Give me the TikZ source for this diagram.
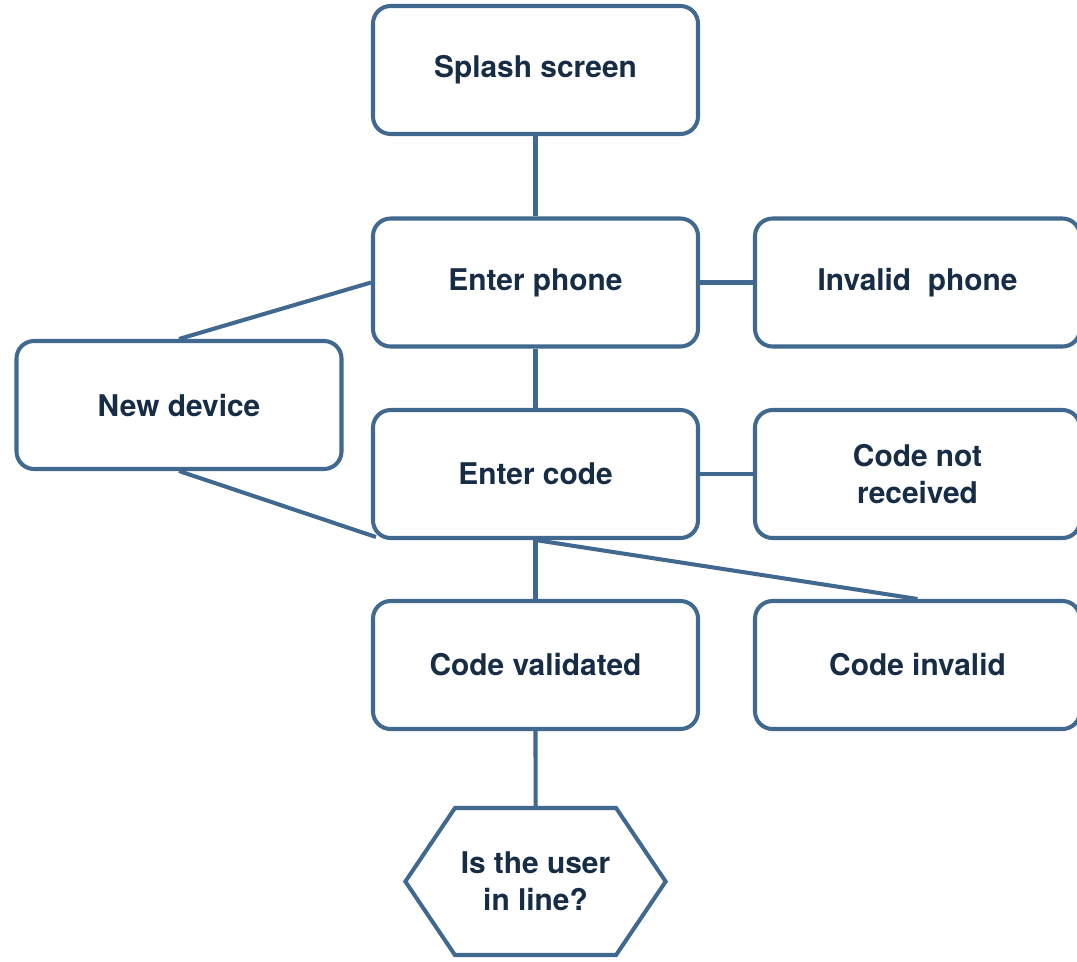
\documentclass[tikz,border=0pt]{standalone}
\usepackage{fontspec}
\setmainfont{TeX Gyre Heros}
\usetikzlibrary{shapes.symbols, positioning, calc}
\definecolor{flowedge}{HTML}{41698F}
\definecolor{flowtext}{HTML}{172D46}

\begin{document}
\begin{tikzpicture}[
    box/.style={rectangle, rounded corners=10pt, draw=flowedge, fill=white, line width=2.3pt,
                minimum width=6.5cm, minimum height=2.56cm, align=center,
                font=\fontsize{17}{21}\selectfont\bfseries, text=flowtext},
    decide/.style={signal, signal to=east and west, signal pointer angle=112, draw=flowedge,
                fill=white, line width=2.3pt, minimum width=5.1cm, minimum height=2.94cm,
                align=center, font=\fontsize{17}{21}\selectfont\bfseries, text=flowtext},
    link/.style={line width=2.3pt, color=flowedge}
]
\useasboundingbox (0,0) rectangle (21.54,-19.22);

\node[box] (splash)   at (10.71,-1.4)   {Splash screen};
\node[box] (phone)    at (10.71,-5.65)  {Enter phone};
\node[box] (badphone) at (18.35,-5.65)  {Invalid\ \ phone};
\node[box] (newdev)   at (3.58,-8.1)    {New device};
\node[box] (code)     at (10.71,-9.48)  {Enter code};
\node[box] (nocode)   at (18.35,-9.48)  {Code not\\received};
\node[box] (valid)    at (10.71,-13.3)  {Code validated};
\node[box] (invalid)  at (18.35,-13.3)  {Code invalid};
\node[decide] (inline) at (10.71,-17.63) {Is the user\\in line?};

\draw[link] (splash) -- (phone);
\draw[link] (phone) -- (code);
\draw[link] (phone) -- (badphone);
\draw[link] (code) -- (nocode);
\draw[link] (phone.west) -- (newdev.north);
\draw[link] (newdev.south) -- ($(code.south west)+(0.1,0.06)$);
\draw[link] (code.south) -- (valid.north);
\draw[link] (code.south) -- (invalid.north);
\draw[link] (valid) -- (inline);
\end{tikzpicture}
\end{document}
